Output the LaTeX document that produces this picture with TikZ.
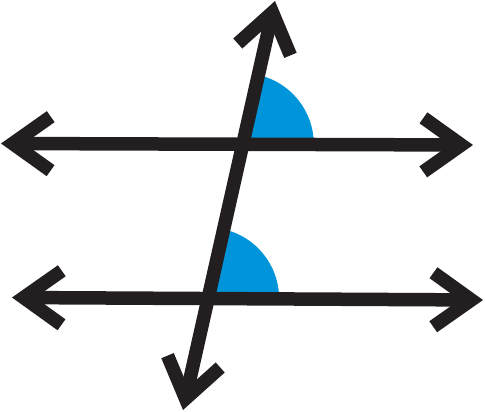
\documentclass[tikz,border=0pt]{standalone}
\usetikzlibrary{arrows.meta}
\definecolor{angleblue}{RGB}{0,149,218}
\definecolor{linecol}{RGB}{35,31,32}
\tikzset{
  barb/.tip={Straight Barb[length=38pt, width=54pt, sharp, line cap=butt]},
  lineA/.style={draw=linecol, line width=13.5pt, barb-barb},
  sector/.style={fill=angleblue}
}
\begin{document}
\begin{tikzpicture}[x=1pt, y=-1pt]
  \useasboundingbox (0,0) rectangle (485,412);
  \coordinate (tl) at (1,143.5);
  \coordinate (tr) at (473,145);
  \coordinate (bl) at (12,297.5);
  \coordinate (br) at (483,300);
  \coordinate (tt) at (275,1);
  \coordinate (tb) at (183,410);
  \coordinate (p) at (intersection of tt--tb and tl--tr);
  \coordinate (q) at (intersection of tt--tb and bl--br);
  \fill[sector] (p) -- ++(0:71) arc[start angle=0, end angle=-77.4, radius=71] -- cycle;
  \fill[sector] (q) -- ++(0:71) arc[start angle=0, end angle=-77.4, radius=71] -- cycle;
  \draw[lineA] (tl) -- (tr);
  \draw[lineA] (bl) -- (br);
  \draw[lineA] (tb) -- (tt);
\end{tikzpicture}
\end{document}
